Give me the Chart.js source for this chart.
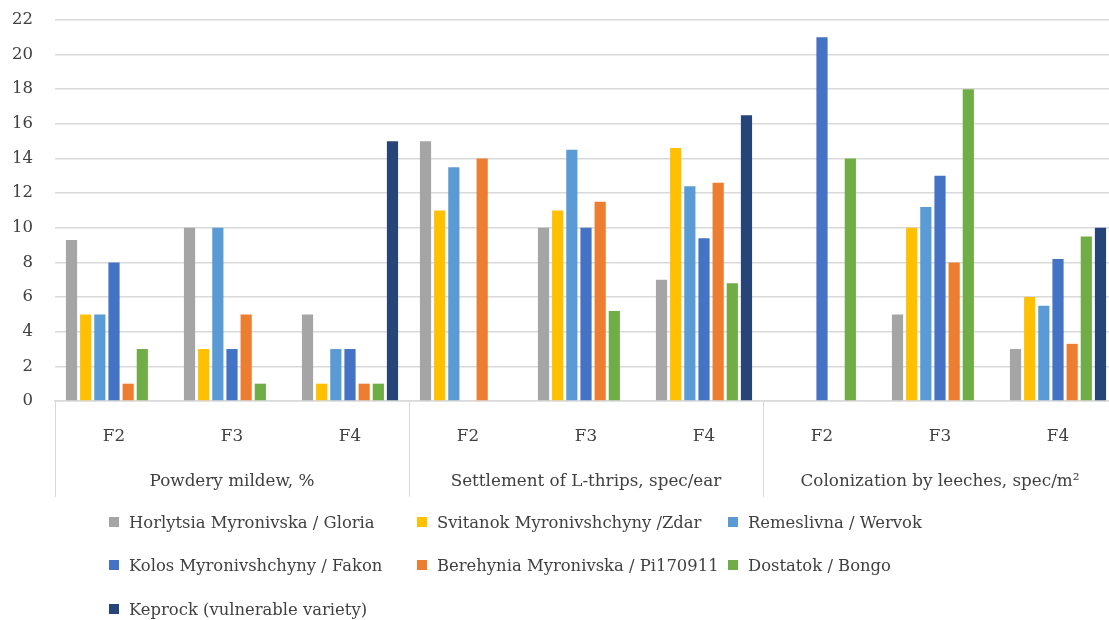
<!DOCTYPE html>
<html>
<head>
<meta charset="utf-8">
<script src="https://cdn.jsdelivr.net/npm/chart.js@4/dist/chart.umd.min.js"></script>
<style>
  html, body { margin: 0; padding: 0; background: #fff; overflow: hidden; }
  #wrap { position: relative; width: 1118px; height: 620px; overflow: hidden; }
  #myChart { position: absolute; left: 0; top: -12px; }
  #legend { position: absolute; left: 0; top: 0; width: 1109px; height: 620px; pointer-events: none;
            font-family: "DejaVu Serif", serif; font-size: 16.4px; color: #404040; }
  .item { position: absolute; display: flex; align-items: center; white-space: nowrap; height: 20px; }
  .box { width: 10px; height: 10px; margin-right: 10px; }
</style>
</head>
<body>
<div id="wrap">
  <canvas id="myChart" width="1118" height="632"></canvas>
  <div id="legend"></div>
</div>
<script>
const labels = ['F2', 'F3', 'F4', 'F2', 'F3', 'F4', 'F2', 'F3', 'F4'];
const groups = ['Powdery mildew, %', 'Settlement of L-thrips, spec/ear', 'Colonization by leeches, spec/m²'];
const yTicks = [0, 2, 4, 6, 8, 10, 12, 14, 16, 18, 20, 22];

const seriesNames = [
    'Horlytsia Myronivska / Gloria',
    'Svitanok Myronivshchyny /Zdar',
    'Remeslivna / Wervok',
    'Kolos Myronivshchyny / Fakon',
    'Berehynia Myronivska / Pi170911',
    'Dostatok / Bongo',
    'Keprock (vulnerable variety)'
];
const gloria  = [9.3, 10, 5, 15, 10, 7, null, 5, 3];
const zdar    = [5, 3, 1, 11, 11, 14.6, null, 10, 6];
const wervok  = [5, 10, 3, 13.5, 14.5, 12.4, null, 11.2, 5.5];
const fakon   = [8, 3, 3, null, 10, 9.4, 21, 13, 8.2];
const pi      = [1, 5, 1, 14, 11.5, 12.6, null, 8, 3.3];
const bongo   = [3, 1, 1, null, 5.2, 6.8, 14, 18, 9.5];
const keprock = [null, null, 15, null, null, 16.5, null, null, 10];

const colors = ['#A5A5A5', '#FFC000', '#5B9BD5', '#4472C4', '#ED7D31', '#70AD47', '#264478'];
const allSeries = [gloria, zdar, wervok, fakon, pi, bongo, keprock];

const FONT = '"DejaVu Serif", serif';
const TEXT = '#404040';

// group labels and separators under the category axis
const groupAxis = {
    id: 'groupAxis',
    afterDraw(chart) {
        const ctx = chart.ctx;
        const x = chart.scales.x;
        const area = chart.chartArea;
        const top = area.bottom;
        const bottom = top + 96;
        const bounds = [area.left];
        for (let g = 1; g < groups.length; g++) {
            bounds.push((x.getPixelForValue(g * 3 - 1) + x.getPixelForValue(g * 3)) / 2);
        }
        bounds.push(area.right);
        ctx.save();
        ctx.strokeStyle = '#D9D9D9';
        ctx.lineWidth = 1;
        bounds.forEach(b => {
            ctx.beginPath();
            ctx.moveTo(Math.round(b) + 0.5, top);
            ctx.lineTo(Math.round(b) + 0.5, bottom);
            ctx.stroke();
        });
        ctx.fillStyle = TEXT;
        ctx.font = '16.8px ' + FONT;
        ctx.textAlign = 'center';
        ctx.textBaseline = 'middle';
        groups.forEach((g, i) => {
            ctx.fillText(g, x.getPixelForValue(i * 3 + 1), top + 81);
        });
        ctx.restore();
    }
};

const config = {
    type: 'bar',
    data: {
        labels: labels,
        datasets: allSeries.map((s, i) => ({
            label: seriesNames[i],
            data: s,
            backgroundColor: colors[i],
            borderWidth: 0,
            categoryPercentage: 0.84,
            barPercentage: 0.79
        }))
    },
    options: {
        responsive: false,
        animation: false,
        layout: { padding: { top: 7, right: 1, left: 0, bottom: 0 } },
        plugins: { legend: { display: false }, tooltip: { enabled: false } },
        scales: {
            y: {
                min: 0,
                max: 22,
                afterBuildTicks: scale => { scale.ticks = yTicks.map(v => ({ value: v })); },
                afterFit: scale => { scale.width = 55; },
                ticks: { color: TEXT, font: { family: FONT, size: 16.5 }, padding: 22 },
                grid: { color: '#D9D9D9', lineWidth: 1.5, drawTicks: false },
                border: { display: false }
            },
            x: {
                afterFit: scale => { scale.height = 219; },
                ticks: { color: TEXT, font: { family: FONT, size: 16.8 }, padding: 18, maxRotation: 0 },
                grid: { display: false },
                border: { color: '#D9D9D9', width: 1.5 }
            }
        }
    },
    plugins: [groupAxis]
};

const chartDOM = document.getElementById('myChart');
window.myChart = new Chart(chartDOM, config);

// legend in three columns, like the original
const legendDiv = document.getElementById('legend');
const colX = [109, 417, 728];
const rowY = [522, 565, 609];
seriesNames.forEach((name, i) => {
    const item = document.createElement('div');
    item.className = 'item';
    item.style.left = colX[i % 3] + 'px';
    item.style.top = (rowY[Math.floor(i / 3)] - 10) + 'px';
    const box = document.createElement('span');
    box.className = 'box';
    box.style.background = colors[i];
    const txt = document.createElement('span');
    txt.textContent = name;
    item.appendChild(box);
    item.appendChild(txt);
    legendDiv.appendChild(item);
});
</script>
</body>
</html>
